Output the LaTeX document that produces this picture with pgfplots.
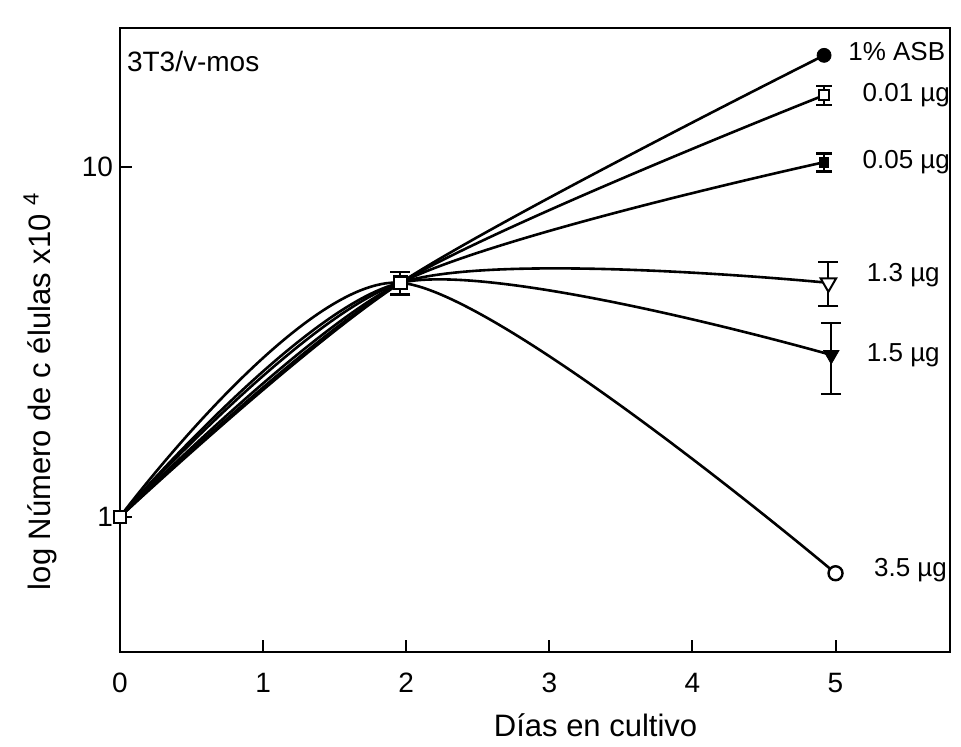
\documentclass[border=0pt]{standalone}
\usepackage{pgfplots}
\pgfplotsset{compat=1.18}
\usepackage{fontspec}
\setmainfont{Liberation Sans}
\usetikzlibrary{calc}

\begin{document}
\begin{tikzpicture}
\begin{axis}[
  name=ax,
  scale only axis,
  width=415pt, height=312pt,
  ymode=log,
  xmin=0, xmax=5.8,
  ymin=0.411, ymax=24.9,
  xtick={0,1,2,3,4,5},
  ytick={1,10}, yticklabels={1,10},
  yminorticks=false,
  tick pos=left,
  tick align=inside,
  major tick length=6pt,
  axis line style={line width=1pt},
  every tick/.style={line width=1pt, black},
  /pgf/number format/assume math mode=true,
  tick label style={font=\fontsize{14}{16}\selectfont},
  xticklabel style={yshift=-7pt},
  xlabel={Días en cultivo},
  ylabel={log Número de c élulas x10 \raisebox{0.7ex}{\fontsize{11}{12}\selectfont 4}},
  xlabel style={font=\fontsize{15.5}{18}\selectfont, at={(axis description cs:0.573,0)}, anchor=center, yshift=-36.5pt},
  ylabel style={font=\fontsize{15.5}{18}\selectfont, at={(axis description cs:-0.0964,0.417)}, anchor=center},
  clip=false,
  error bars/error bar style={line width=1pt},
]
% curves
\addplot[line width=1.3pt, smooth] coordinates {(0,1) (1.96,4.66) (4.92,20.8)};
\addplot[line width=1.3pt, smooth] coordinates {(0,1) (1.96,4.66) (4.92,16.0)};
\addplot[line width=1.3pt, smooth] coordinates {(0,1) (1.96,4.66) (4.92,10.3)};
\addplot[line width=1.3pt, smooth] coordinates {(0,1) (1.96,4.66) (4.95,4.66)};
\addplot[line width=1.3pt, smooth] coordinates {(0,1) (1.96,4.66) (4.97,2.90)};
\addplot[line width=1.3pt, smooth] coordinates {(0,1) (1.96,4.66) (5.00,0.69)};

% end markers
\addplot[only marks, mark=*, mark size=3.5pt] coordinates {(4.92,20.8)};
\addplot[only marks, mark=square*, mark size=2.4pt, mark options={fill=white, line width=1pt},
  error bars/.cd, y dir=both, y explicit, error mark options={rotate=90, line width=1.2pt, mark size=3.8pt}]
  coordinates {(4.92,16.0) +- (0,1.0)};
\addplot[only marks, mark=square*, mark size=2.4pt,
  error bars/.cd, y dir=both, y explicit, error mark options={rotate=90, line width=1.2pt, mark size=3.8pt}]
  coordinates {(4.92,10.3) +- (0,0.6)};
\addplot[only marks, mark=triangle*, mark size=4.5pt, mark options={rotate=180, fill=white, line width=1pt},
  error bars/.cd, y dir=both, y explicit, error mark options={rotate=90, line width=1pt, mark size=5pt}]
  coordinates {(4.95,4.66) += (0,0.69) -= (0,0.65)};
\addplot[only marks, mark=triangle*, mark size=4.5pt, mark options={rotate=180},
  error bars/.cd, y dir=both, y explicit, error mark options={rotate=90, line width=1pt, mark size=5pt}]
  coordinates {(4.97,2.90) += (0,0.68) -= (0,0.65)};
\addplot[only marks, mark=*, mark size=3.5pt, mark options={fill=white, line width=1.2pt}] coordinates {(5.00,0.69)};

% common points
\addplot[only marks, mark=square*, mark size=3pt, mark options={fill=white, line width=1pt}] coordinates {(0,1)};
\addplot[only marks, mark=square*, mark size=3.2pt, mark options={fill=white, line width=1.2pt},
  error bars/.cd, y dir=both, y explicit, error mark options={rotate=90, line width=1.2pt, mark size=5pt}]
  coordinates {(1.96,4.66) +- (0,0.35)};

% labels
\begin{scope}[font=\fontsize{13}{15}\selectfont]
\node[anchor=west] at (axis cs:5.04,21.3) {1\% ASB};
\node[anchor=west] at (axis cs:5.14,16.0) {0.01 µg};
\node[anchor=west] at (axis cs:5.14,10.3) {0.05 µg};
\node[anchor=west] at (axis cs:5.17,4.91) {1.3 µg};
\node[anchor=west] at (axis cs:5.17,2.90) {1.5 µg};
\node[anchor=west] at (axis cs:5.22,0.706) {3.5 µg};
\end{scope}
\node[anchor=west, font=\fontsize{14}{16}\selectfont] at (axis cs:0.0,20) {3T3/v-mos};
\end{axis}
\pgfresetboundingbox
\path[use as bounding box] ($(ax.south west)+(-60pt,-47.5pt)$) rectangle ($(ax.north east)+(5.5pt,14pt)$);
\end{tikzpicture}
\end{document}
